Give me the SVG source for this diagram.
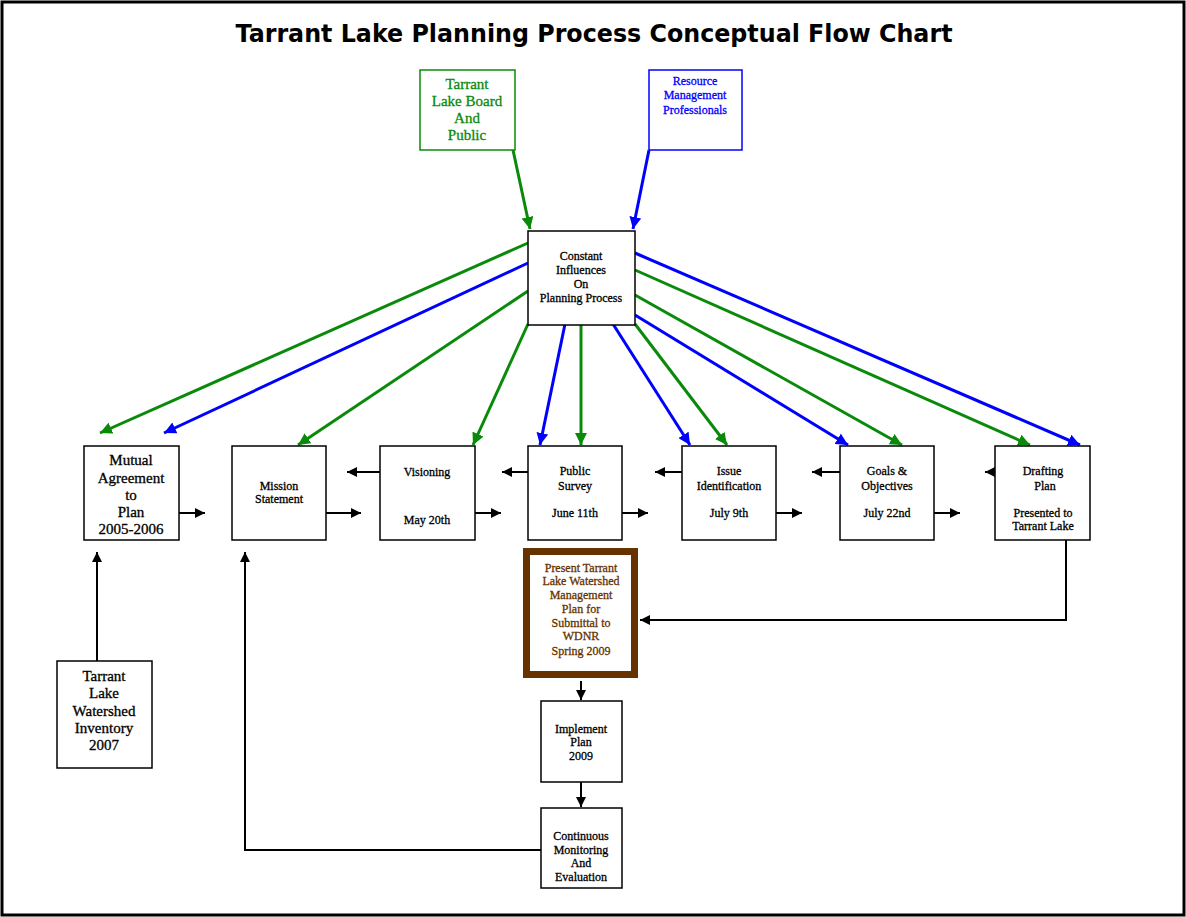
<svg xmlns="http://www.w3.org/2000/svg" width="1186" height="917" viewBox="0 0 1186 917">
<style>
.box{fill:#fff;stroke:#000;stroke-width:1.5}
.t{font-family:"Liberation Serif","Times New Roman",serif;font-size:12px;text-anchor:middle;fill:#000;stroke:#000;stroke-width:0.3}
.tl{font-size:15px}
.g{stroke:#0a8a0a;stroke-width:3;fill:none}
.b{stroke:#0000ff;stroke-width:3;fill:none}
.k{stroke:#000;stroke-width:2;fill:none}
</style>
<defs>
<marker id="ag" markerUnits="userSpaceOnUse" markerWidth="14" markerHeight="12" refX="12" refY="6" orient="auto"><path d="M0,0 L12,6 L0,12 z" fill="#0a8a0a"/></marker>
<marker id="ab" markerUnits="userSpaceOnUse" markerWidth="14" markerHeight="12" refX="12" refY="6" orient="auto"><path d="M0,0 L12,6 L0,12 z" fill="#0000ff"/></marker>
<marker id="ak" markerUnits="userSpaceOnUse" markerWidth="12" markerHeight="10" refX="10" refY="5" orient="auto"><path d="M0,0 L10,5 L0,10 z" fill="#000"/></marker>
</defs>
<rect x="0" y="0" width="1186" height="917" fill="#fff"/>
<rect x="2" y="2" width="1182" height="913" fill="none" stroke="#000" stroke-width="3"/>
<text x="594" y="42" font-family="'DejaVu Sans',Verdana,sans-serif" font-size="24" font-weight="bold" text-anchor="middle" textLength="717" lengthAdjust="spacingAndGlyphs">Tarrant Lake Planning Process Conceptual Flow Chart</text>

<g id="connectors">
<path class="g" d="M513,150 L530,229" marker-end="url(#ag)"/>
<path class="b" d="M649,150 L633,229" marker-end="url(#ab)"/>
<path class="g" d="M528,243 L100,433" marker-end="url(#ag)"/>
<path class="b" d="M528,263 L164,433" marker-end="url(#ab)"/>
<path class="g" d="M528,291 L298,445" marker-end="url(#ag)"/>
<path class="g" d="M528,324 L473,445" marker-end="url(#ag)"/>
<path class="b" d="M565,324 L540,445" marker-end="url(#ab)"/>
<path class="g" d="M581,324 L581,445" marker-end="url(#ag)"/>
<path class="b" d="M613,324 L690,445" marker-end="url(#ab)"/>
<path class="g" d="M635,324 L727,445" marker-end="url(#ag)"/>
<path class="b" d="M635,315 L848,445" marker-end="url(#ab)"/>
<path class="g" d="M635,295 L902,445" marker-end="url(#ag)"/>
<path class="g" d="M635,270 L1030,445" marker-end="url(#ag)"/>
<path class="b" d="M635,253 L1080,445" marker-end="url(#ab)"/>

<path class="k" d="M179,513 L205,513" marker-end="url(#ak)"/>
<path class="k" d="M326,513 L361,513" marker-end="url(#ak)"/>
<path class="k" d="M475,513 L501,513" marker-end="url(#ak)"/>
<path class="k" d="M622,513 L648,513" marker-end="url(#ak)"/>
<path class="k" d="M776,513 L802,513" marker-end="url(#ak)"/>
<path class="k" d="M934,513 L960,513" marker-end="url(#ak)"/>
<path class="k" d="M380,472 L347,472" marker-end="url(#ak)"/>
<path class="k" d="M528,472 L502,472" marker-end="url(#ak)"/>
<path class="k" d="M682,472 L655,472" marker-end="url(#ak)"/>
<path class="k" d="M840,472 L812,472" marker-end="url(#ak)"/>
<path class="k" d="M1012,472 L985,472" marker-end="url(#ak)"/>
<path class="k" d="M1066,540 L1066,620 L640,620" marker-end="url(#ak)"/>
<path class="k" d="M581,681 L581,700" marker-end="url(#ak)"/>
<path class="k" d="M581,782 L581,807" marker-end="url(#ak)"/>
<path class="k" d="M541,850 L245,850 L245,552" marker-end="url(#ak)"/>
<path class="k" d="M97,661 L97,552" marker-end="url(#ak)"/>
</g>

<g id="board">
<rect x="420" y="70" width="95" height="80" fill="#fff" stroke="#0a8a0a" stroke-width="1.5"/>
<text class="t tl" style="fill:#0a8a0a;stroke:#0a8a0a"><tspan x="467" y="89">Tarrant</tspan><tspan x="467" y="106">Lake Board</tspan><tspan x="467" y="123">And</tspan><tspan x="467" y="140">Public</tspan></text>
</g>
<g id="resource">
<rect x="649" y="70" width="93" height="80" fill="#fff" stroke="#0000ff" stroke-width="1.5"/>
<text class="t" style="fill:#0000ff;stroke:#0000ff"><tspan x="695" y="85">Resource</tspan><tspan x="695" y="99">Management</tspan><tspan x="695" y="114">Professionals</tspan></text>
</g>
<g id="constant">
<rect class="box" x="528" y="231" width="107" height="94"/>
<text class="t"><tspan x="581" y="260">Constant</tspan><tspan x="581" y="274">Influences</tspan><tspan x="581" y="288">On</tspan><tspan x="581" y="302">Planning Process</tspan></text>
</g>
<g id="mutual">
<rect class="box" x="84" y="446" width="95" height="94"/>
<text class="t tl"><tspan x="131" y="465">Mutual</tspan><tspan x="131" y="483">Agreement</tspan><tspan x="131" y="500">to</tspan><tspan x="131" y="517">Plan</tspan><tspan x="131" y="534">2005-2006</tspan></text>
</g>
<g id="mission">
<rect class="box" x="232" y="446" width="94" height="94"/>
<text class="t"><tspan x="279" y="490">Mission</tspan><tspan x="279" y="503">Statement</tspan></text>
</g>
<g id="visioning">
<rect class="box" x="380" y="446" width="95" height="94"/>
<text class="t"><tspan x="427" y="476">Visioning</tspan><tspan x="427" y="524">May 20th</tspan></text>
</g>
<g id="survey">
<rect class="box" x="528" y="446" width="94" height="94"/>
<text class="t"><tspan x="575" y="475">Public</tspan><tspan x="575" y="490">Survey</tspan><tspan x="575" y="517">June 11th</tspan></text>
</g>
<g id="issue">
<rect class="box" x="682" y="446" width="94" height="94"/>
<text class="t"><tspan x="729" y="475">Issue</tspan><tspan x="729" y="490">Identification</tspan><tspan x="729" y="517">July 9th</tspan></text>
</g>
<g id="goals">
<rect class="box" x="840" y="446" width="94" height="94"/>
<text class="t"><tspan x="887" y="475">Goals &amp;</tspan><tspan x="887" y="490">Objectives</tspan><tspan x="887" y="517">July 22nd</tspan></text>
</g>
<g id="drafting">
<rect class="box" x="995" y="446" width="95" height="94"/>
<text class="t"><tspan x="1043" y="475">Drafting</tspan><tspan x="1045" y="490">Plan</tspan><tspan x="1043" y="517">Presented to</tspan><tspan x="1043" y="530">Tarrant Lake</tspan></text>
</g>
<g id="present">
<rect x="526.5" y="551.5" width="108" height="123" fill="#fff" stroke="#663300" stroke-width="7"/>
<text class="t" style="fill:#663300;stroke:#663300"><tspan x="581" y="572">Present Tarrant</tspan><tspan x="581" y="585">Lake Watershed</tspan><tspan x="581" y="599">Management</tspan><tspan x="581" y="613">Plan for</tspan><tspan x="581" y="627">Submittal to</tspan><tspan x="581" y="640">WDNR</tspan><tspan x="581" y="655">Spring 2009</tspan></text>
</g>
<g id="implement">
<rect class="box" x="541" y="701" width="81" height="81"/>
<text class="t"><tspan x="581" y="733">Implement</tspan><tspan x="581" y="746">Plan</tspan><tspan x="581" y="760">2009</tspan></text>
</g>
<g id="monitoring">
<rect class="box" x="541" y="808" width="81" height="80"/>
<text class="t"><tspan x="581" y="840">Continuous</tspan><tspan x="581" y="854">Monitoring</tspan><tspan x="581" y="867">And</tspan><tspan x="581" y="881">Evaluation</tspan></text>
</g>
<g id="inventory">
<rect class="box" x="57" y="661" width="95" height="107"/>
<text class="t tl"><tspan x="104" y="681">Tarrant</tspan><tspan x="104" y="698">Lake</tspan><tspan x="104" y="716">Watershed</tspan><tspan x="104" y="733">Inventory</tspan><tspan x="104" y="750">2007</tspan></text>
</g>
</svg>
